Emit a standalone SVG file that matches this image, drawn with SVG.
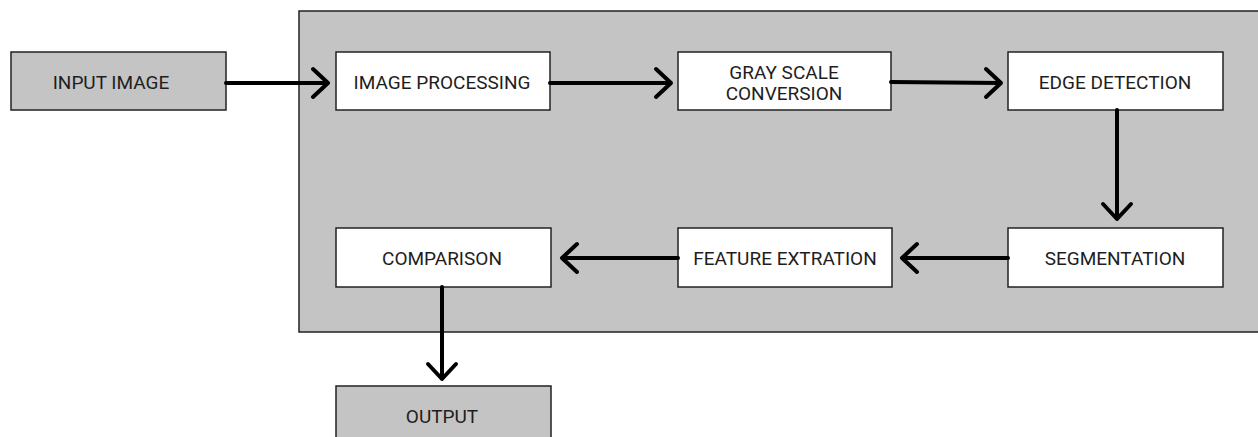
<svg xmlns="http://www.w3.org/2000/svg" width="1258" height="437" viewBox="0 0 1258 437">
<defs>
<style>
.box{stroke:#222;stroke-width:1.5}
.w{fill:#fff}
.g{fill:#c4c4c4}
text{font-family:Roboto,"Liberation Sans",sans-serif;font-size:19px;fill:#1e1e1e;text-anchor:middle;dominant-baseline:central}
.c{stroke:#000;stroke-width:4;fill:none;stroke-linecap:round;stroke-linejoin:round}
</style>
</defs>
<rect width="1258" height="437" fill="#fff"/>
<g id="container"><rect x="299" y="11" width="960" height="321" class="box g"/></g>
<g id="input"><rect x="11" y="52" width="215" height="58" class="box g"/><text x="111" y="82">INPUT IMAGE</text></g>
<g id="imgproc"><rect x="336" y="52" width="214" height="58" class="box w"/><text x="442" y="82">IMAGE PROCESSING</text></g>
<g id="gray"><rect x="678" y="52" width="213" height="58" class="box w"/><text x="784" y="72">GRAY SCALE</text><text x="784" y="93">CONVERSION</text></g>
<g id="edge"><rect x="1008" y="52" width="215" height="58" class="box w"/><text x="1115" y="82">EDGE DETECTION</text></g>
<g id="seg"><rect x="1008" y="228" width="215" height="59" class="box w"/><text x="1115" y="258">SEGMENTATION</text></g>
<g id="feat"><rect x="678" y="228" width="214" height="59" class="box w"/><text x="785" y="258">FEATURE EXTRATION</text></g>
<g id="comp"><rect x="336" y="228" width="215" height="59" class="box w"/><text x="442" y="258">COMPARISON</text></g>
<g id="output"><rect x="336" y="386" width="215" height="60" class="box g"/><text x="442" y="416">OUTPUT</text></g>
<g id="connectors">
<path class="c" d="M226 83H328M313 69L328 83L313 97"/>
<path class="c" d="M550 83H671M656 69L671 83L656 97"/>
<path class="c" d="M891 82L1001 83M986 69L1001 83L986 97"/>
<path class="c" d="M1117 110V219M1103 204L1117 219L1131 204"/>
<path class="c" d="M1008 258H902M917 244L902 258L917 272"/>
<path class="c" d="M678 258H562M577 244L562 258L577 272"/>
<path class="c" d="M442 287V379M428 364L442 379L456 364"/>
</g>
</svg>
